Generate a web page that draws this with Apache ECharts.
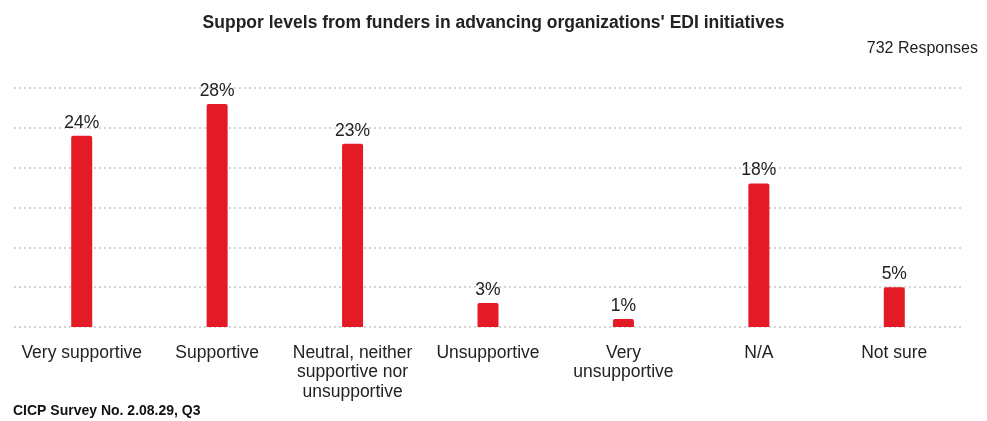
<!DOCTYPE html>
<html>
<head>
<meta charset="utf-8">
<style>
  html, body { margin: 0; padding: 0; background: #ffffff; }
  #chart { width: 987px; height: 421px; }
</style>
<script src="https://cdn.jsdelivr.net/npm/echarts@6/dist/echarts.min.js"></script>
</head>
<body>
<div id="chart"></div>
<script>
// Survey answers and share of respondents (%)
const categories = [
  'Very supportive',
  'Supportive',
  'Neutral, neither\nsupportive nor\nunsupportive',
  'Unsupportive',
  'Very\nunsupportive',
  'N/A',
  'Not sure'
];
const shares = [24, 28, 23, 3, 1, 18, 5];
const axisMax = 30;
const axisStep = 5;

const chart = echarts.init(document.getElementById('chart'), null, { renderer: 'canvas' });
const font = '"Liberation Sans", Arial, Helvetica, sans-serif';

chart.setOption({
  animation: false,
  backgroundColor: '#ffffff',
  textStyle: { fontFamily: font },
  title: [
    {
      text: "Suppor levels from funders in advancing organizations' EDI initiatives",
      left: 'center',
      top: 9,
      textStyle: { fontSize: 17.5, fontWeight: 'bold', color: '#222222', fontFamily: font }
    },
    {
      text: '732 Responses',
      right: 4,
      top: 36,
      textStyle: { fontSize: 16, fontWeight: 'normal', color: '#222222', fontFamily: font }
    },
    {
      text: 'CICP Survey No. 2.08.29, Q3',
      left: 8,
      top: 399,
      textStyle: { fontSize: 14, fontWeight: 'bold', color: '#111111', fontFamily: font }
    }
  ],
  grid: { left: 14, right: 25, top: 88, bottom: 94, containLabel: false },
  xAxis: {
    type: 'category',
    data: categories,
    axisLine: { show: false },
    axisTick: { show: false },
    axisLabel: {
      interval: 0,
      margin: 16,
      fontSize: 17.5,
      lineHeight: 19.5,
      color: '#222222',
      fontFamily: font,
      align: 'center'
    }
  },
  yAxis: {
    type: 'value',
    min: 0,
    max: axisMax,
    interval: axisStep,
    axisLabel: { show: false },
    axisLine: { show: false },
    axisTick: { show: false },
    splitLine: {
      show: true,
      lineStyle: { color: '#d4d4d4', width: 2, type: [2, 3] }
    }
  },
  series: [
    {
      type: 'bar',
      data: shares,
      barWidth: 21,
      itemStyle: { color: '#e41a26', borderRadius: [2, 2, 0, 0] },
      label: {
        show: true,
        position: 'top',
        distance: 4,
        formatter: '{c}%',
        fontSize: 17.5,
        color: '#222222',
        fontFamily: font
      }
    }
  ]
});
</script>
</body>
</html>
